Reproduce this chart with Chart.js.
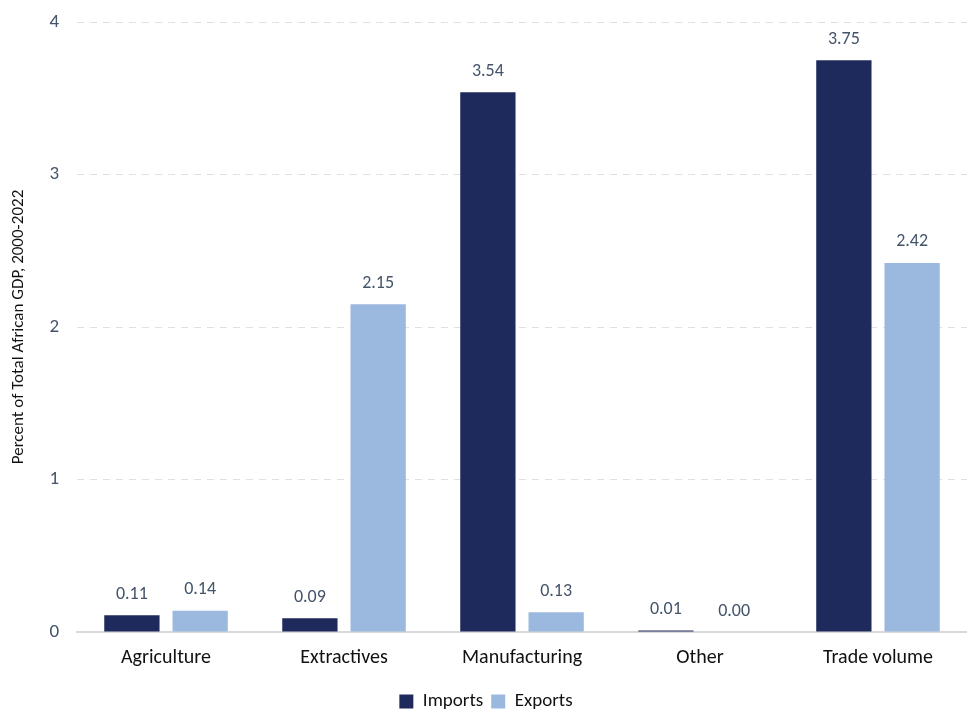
<!DOCTYPE html>
<html>
<head>
<meta charset="utf-8">
<script src="https://cdn.jsdelivr.net/npm/chart.js@4.4.0/dist/chart.umd.min.js"></script>
<style>
  html, body { margin: 0; padding: 0; background: #fff; }
  #wrap { width: 967px; height: 709px; }
</style>
</head>
<body>
<div id="wrap"><canvas id="chart"></canvas></div>
<script>
const categories = ['Agriculture', 'Extractives', 'Manufacturing', 'Other', 'Trade volume'];
const imports = [0.11, 0.09, 3.54, 0.01, 3.75];
const exports = [0.14, 2.15, 0.13, 0.00, 2.42];
const yTicks = [0, 1, 2, 3, 4];

const FONT = "Carlito, Lato, 'Open Sans', sans-serif";
const SLATE = '#44546a';

// value labels above each bar
const valueLabels = {
  id: 'valueLabels',
  afterDatasetsDraw(chart) {
    const ctx = chart.ctx;
    ctx.save();
    ctx.font = `18px ${FONT}`;
    ctx.fillStyle = SLATE;
    ctx.textAlign = 'center';
    ctx.textBaseline = 'bottom';
    chart.data.datasets.forEach((ds, i) => {
      chart.getDatasetMeta(i).data.forEach((bar, j) => {
        ctx.fillText(ds.data[j].toFixed(2), bar.x, bar.y - 12);
      });
    });
    ctx.restore();
  }
};

new Chart(document.getElementById('chart'), {
  type: 'bar',
  data: {
    labels: categories,
    datasets: [
      { label: 'Imports', data: imports, backgroundColor: '#1f2a5c', borderWidth: 0 },
      { label: 'Exports', data: exports, backgroundColor: '#9bb8df', borderWidth: 0 }
    ]
  },
  options: {
    responsive: true,
    maintainAspectRatio: false,
    animation: false,
    categoryPercentage: 0.767,
    barPercentage: 0.81,
    layout: { padding: { top: 0, right: 0, left: 5, bottom: -12 } },
    plugins: {
      legend: {
        position: 'bottom',
        labels: {
          color: '#111',
          boxWidth: 14,
          boxHeight: 14,
          padding: 8,
          font: { family: FONT, size: 19 }
        }
      },
      tooltip: { enabled: false }
    },
    scales: {
      x: {
        grid: { display: false, drawTicks: false },
        border: { color: '#d9d9d9', width: 2 },
        ticks: { color: '#111', padding: 14, font: { family: FONT, size: 20 } }
      },
      y: {
        min: 0,
        max: 4,
        afterBuildTicks(axis) { axis.ticks = yTicks.map(v => ({ value: v })); },
        afterFit(axis) { axis.paddingTop = 22; },
        grid: { color: '#e0e0e0', lineWidth: 1, drawTicks: false },
        border: { display: false, dash: [7, 6] },
        ticks: { color: SLATE, padding: 18, font: { family: FONT, size: 19 } },
        title: {
          display: true,
          text: 'Percent of Total African GDP, 2000-2022',
          color: '#111',
          font: { family: FONT, size: 17 },
          padding: { bottom: 2 }
        }
      }
    }
  },
  plugins: [valueLabels]
});
</script>
</body>
</html>
